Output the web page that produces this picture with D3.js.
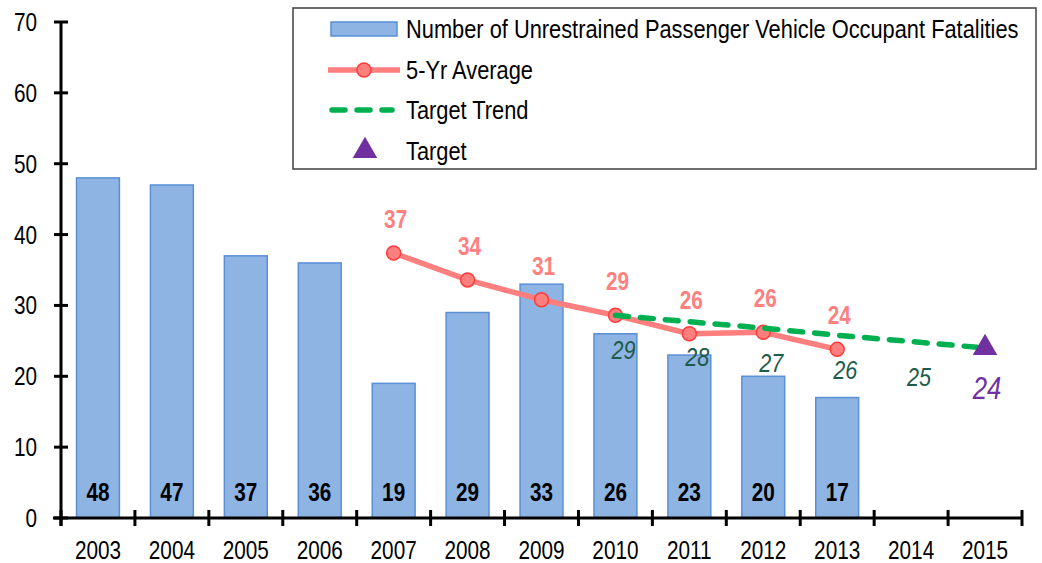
<!DOCTYPE html>
<html>
<head>
<meta charset="utf-8">
<script src="https://cdn.jsdelivr.net/npm/d3@7"></script>
<style>
  body { margin: 0; background: #fff; }
  svg text { font-family: "Liberation Sans", Arial, sans-serif; }
</style>
</head>
<body>
<div id="chart"></div>
<script>
// values
var years = ['2003','2004','2005','2006','2007','2008','2009','2010','2011','2012','2013','2014','2015'];
var fatalYears = ['2003','2004','2005','2006','2007','2008','2009','2010','2011','2012','2013'];
var fatalities = [48, 47, 37, 36, 19, 29, 33, 26, 23, 20, 17];
var avgYears = ['2007','2008','2009','2010','2011','2012','2013'];
var avgValues = [37.4, 33.6, 30.8, 28.6, 26.0, 26.2, 23.8];
var avgLabels = ['37','34','31','29','26','26','24'];
var trendYears = ['2010','2011','2012','2013','2014','2015'];
var trendValues = [28.6, 27.7, 26.8, 25.8, 24.9, 24.0];
var trendLabels = ['29','28','27','26','25'];
var targetYear = '2015';
var targetValue = 24;
var targetLabel = '24';
var yTicks = [0, 10, 20, 30, 40, 50, 60, 70];
var legendNames = ['Number of Unrestrained Passenger Vehicle Occupant Fatalities', '5-Yr Average', 'Target Trend', 'Target'];

var width = 1042, height = 563;
var mLeft = 61, mRight = 1022, mTop = 22, mBottom = 518;
var NARROW = 0.83; // the reference font is a condensed one

var svg = d3.select('#chart').append('svg')
	.attr('width', width)
	.attr('height', height);

var x = d3.scaleBand().domain(years).range([mLeft, mRight]).paddingInner(0.42).paddingOuter(0.21);
var xb = d3.scaleBand().domain(years).range([mLeft, mRight]); // for tick positions at band edges
var y = d3.scaleLinear().domain([0, 70]).range([mBottom, mTop]);
var cx = function(d) { return x(d) + x.bandwidth() / 2; };

// squeezes text horizontally around its anchor point
function place(sel, fx, fy) {
	sel.attr('transform', function(d, i) {
		return 'translate(' + fx(d, i) + ',' + fy(d, i) + ') scale(' + NARROW + ',1)';
	});
	return sel;
}

// bars
svg.append('g').selectAll('rect')
	.data(fatalities)
	.enter()
	.append('rect')
	.attr('x', function(d, i) { return x(fatalYears[i]); })
	.attr('y', function(d) { return y(d); })
	.attr('width', x.bandwidth())
	.attr('height', function(d) { return y(0) - y(d); })
	.attr('fill', '#8EB4E3')
	.attr('stroke', '#5A8FD6')
	.attr('stroke-width', 1.5);

place(svg.append('g').selectAll('text')
	.data(fatalities)
	.enter()
	.append('text'),
	function(d, i) { return cx(fatalYears[i]); }, function() { return 501; })
	.attr('text-anchor', 'middle')
	.style('font-size', '25px')
	.style('font-weight', 'bold')
	.attr('fill', '#000')
	.text(function(d) { return d; });

// axes
var yAxis = svg.append('g').attr('transform', 'translate(' + mLeft + ',0)');
yAxis.append('line').attr('x1', 0).attr('x2', 0).attr('y1', y(70)).attr('y2', mBottom + 8)
	.attr('stroke', '#000').attr('stroke-width', 3);
yAxis.selectAll('.tk').data(yTicks).enter().append('line')
	.attr('x1', -7).attr('x2', 7)
	.attr('y1', function(d) { return y(d); })
	.attr('y2', function(d) { return y(d); })
	.attr('stroke', '#000').attr('stroke-width', 3);
place(yAxis.selectAll('text').data(yTicks).enter().append('text'),
	function() { return -24; }, function(d) { return y(d) + 9; })
	.attr('text-anchor', 'end')
	.style('font-size', '25px')
	.text(function(d) { return d; });

var xAxis = svg.append('g');
xAxis.append('line').attr('x1', mLeft - 8).attr('x2', mRight + 1).attr('y1', mBottom).attr('y2', mBottom)
	.attr('stroke', '#000').attr('stroke-width', 3);
var edges = years.map(function(d) { return xb(d); }).concat([mRight]);
xAxis.selectAll('.tk').data(edges).enter().append('line')
	.attr('x1', function(d) { return d; })
	.attr('x2', function(d) { return d; })
	.attr('y1', mBottom - 8).attr('y2', mBottom + 8)
	.attr('stroke', '#000').attr('stroke-width', 3);
place(xAxis.selectAll('text').data(years).enter().append('text'),
	function(d) { return cx(d); }, function() { return 559; })
	.attr('text-anchor', 'middle')
	.style('font-size', '25px')
	.text(function(d) { return d; });

var line = d3.line()
	.x(function(d) { return cx(d[0]); })
	.y(function(d) { return y(d[1]); });

// 5-yr average
svg.append('path')
	.datum(avgYears.map(function(d, i) { return [d, avgValues[i]]; }))
	.attr('d', line)
	.attr('fill', 'none')
	.attr('stroke', '#FF7F7F')
	.attr('stroke-width', 5.5);

svg.append('g').selectAll('circle')
	.data(avgValues)
	.enter()
	.append('circle')
	.attr('cx', function(d, i) { return cx(avgYears[i]); })
	.attr('cy', function(d) { return y(d); })
	.attr('r', 7)
	.attr('fill', '#FF7F7F')
	.attr('stroke', '#FF3B3B')
	.attr('stroke-width', 1.5);

place(svg.append('g').selectAll('text')
	.data(avgValues)
	.enter()
	.append('text'),
	function(d, i) { return cx(avgYears[i]) + 2; }, function(d) { return y(d) - 25; })
	.attr('text-anchor', 'middle')
	.style('font-size', '25px')
	.style('font-weight', 'bold')
	.attr('fill', '#FF8080')
	.text(function(d, i) { return avgLabels[i]; });

// target trend (dashed, drawn over the average line)
svg.append('path')
	.datum(trendYears.map(function(d, i) { return [d, trendValues[i]]; }))
	.attr('d', line)
	.attr('fill', 'none')
	.attr('stroke', '#00B050')
	.attr('stroke-width', 5.5)
	.attr('stroke-linecap', 'round')
	.attr('stroke-dasharray', '13,12');

// trend labels
place(svg.append('g').selectAll('text')
	.data(trendLabels)
	.enter()
	.append('text'),
	function(d, i) { return cx(trendYears[i]) + 8; }, function(d, i) { return y(trendValues[i]) + 44; })
	.attr('text-anchor', 'middle')
	.style('font-size', '26px')
	.style('font-style', 'italic')
	.attr('fill', '#1D5B4A')
	.text(function(d) { return d; });

// target
var tri = d3.symbol().type(d3.symbolTriangle).size(260);
svg.append('path')
	.attr('d', tri())
	.attr('transform', 'translate(' + cx(targetYear) + ',' + y(targetValue) + ')')
	.attr('fill', '#7030A0');
place(svg.append('text'),
	function() { return cx(targetYear) + 2; }, function() { return y(targetValue) + 51; })
	.attr('text-anchor', 'middle')
	.style('font-size', '31px')
	.style('font-style', 'italic')
	.attr('fill', '#7030A0')
	.text(targetLabel);

// legend
var lg = svg.append('g');
lg.append('rect')
	.attr('x', 293).attr('y', 8).attr('width', 743).attr('height', 161)
	.attr('fill', '#fff').attr('stroke', '#404040').attr('stroke-width', 1.5);
var rowY = [29, 70, 110, 151];
lg.append('rect').attr('x', 331).attr('y', rowY[0] - 7).attr('width', 66).attr('height', 14)
	.attr('fill', '#8EB4E3').attr('stroke', '#5A8FD6').attr('stroke-width', 1.5);
lg.append('line').attr('x1', 328).attr('x2', 400).attr('y1', rowY[1]).attr('y2', rowY[1])
	.attr('stroke', '#FF7F7F').attr('stroke-width', 5.5);
lg.append('circle').attr('cx', 364).attr('cy', rowY[1]).attr('r', 7)
	.attr('fill', '#FF7F7F').attr('stroke', '#FF3B3B').attr('stroke-width', 1.5);
lg.append('line').attr('x1', 332).attr('x2', 392).attr('y1', rowY[2]).attr('y2', rowY[2])
	.attr('stroke', '#00B050').attr('stroke-width', 5.5).attr('stroke-linecap', 'round')
	.attr('stroke-dasharray', '13,12');
lg.append('path').attr('d', tri()).attr('transform', 'translate(365,' + rowY[3] + ')')
	.attr('fill', '#7030A0');
place(lg.selectAll('.lt').data(legendNames).enter().append('text'),
	function() { return 406; }, function(d, i) { return rowY[i] + 9; })
	.style('font-size', '26.3px')
	.attr('fill', '#000')
	.text(function(d) { return d; });
</script>
</body>
</html>
